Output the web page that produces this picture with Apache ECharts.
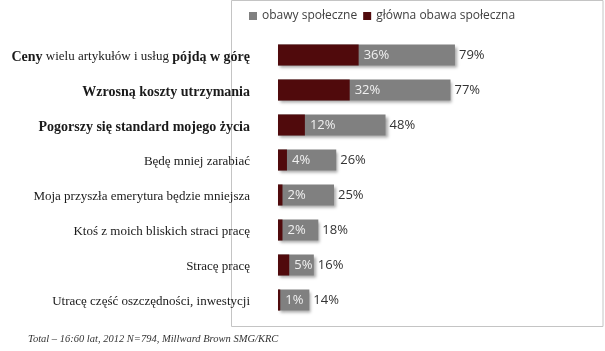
<!DOCTYPE html>
<html>
<head>
<meta charset="utf-8">
<script src="https://cdn.jsdelivr.net/npm/echarts@6/dist/echarts.min.js"></script>
<style>
  html, body { margin: 0; padding: 0; background: #fff; }
  #chart { width: 605px; height: 351px; }
</style>
</head>
<body>
<div id="chart"></div>
<script>
// categories, top to bottom; {b|...} marks bold parts
var categories = [
  '{b|Ceny} wielu artykułów i usług {b|pójdą w górę}',
  '{b|Wzrosną koszty utrzymania}',
  '{b|Pogorszy się standard mojego życia}',
  'Będę mniej zarabiać',
  'Moja przyszła emerytura będzie mniejsza',
  'Ktoś z moich bliskich straci pracę',
  'Stracę pracę',
  'Utracę część oszczędności, inwestycji'
]
var obawy = [79, 77, 48, 26, 25, 18, 16, 14]
var glowna = [36, 32, 12, 4, 2, 2, 5, 1]
var footnote = 'Total – 16:60 lat, 2012 N=794, Millward Brown SMG/KRC'

var serif = '"Liberation Serif", "DejaVu Serif", serif'
var sans = '"Open Sans", "Liberation Sans", sans-serif'
var barShadow = { shadowBlur: 3, shadowOffsetX: 2, shadowOffsetY: 2, shadowColor: 'rgba(0,0,0,0.35)' }

var chart = echarts.init(document.getElementById('chart'))
chart.setOption({
  animation: false,
  backgroundColor: '#fff',
  legend: {
    left: 244,
    top: 5,
    itemWidth: 8,
    itemHeight: 8,
    itemGap: 6,
    icon: 'rect',
    textStyle: { fontFamily: sans, fontSize: 12, color: '#404040' },
    data: ['obawy społeczne', 'główna obawa społeczna']
  },
  grid: { left: 278, right: 103, top: 37.5, bottom: 33.5 },
  xAxis: {
    type: 'value', min: 0, max: 100,
    show: false
  },
  yAxis: {
    type: 'category',
    inverse: true,
    data: categories,
    axisLine: { show: false },
    axisTick: { show: false },
    axisLabel: {
      margin: 28,
      padding: [4, 0, 0, 0],
      fontFamily: serif,
      fontSize: 13,
      color: '#1a1a1a',
      rich: {
        b: { fontFamily: serif, fontSize: 14, fontWeight: 'bold', color: '#1a1a1a' }
      }
    }
  },
  series: [
    {
      name: 'obawy społeczne',
      type: 'bar',
      data: obawy,
      barWidth: 21,
      barGap: '-100%',
      itemStyle: Object.assign({ color: '#808080' }, barShadow),
      label: {
        show: true, position: 'right', distance: 4,
        formatter: '{c}%', fontFamily: sans, fontSize: 13, color: '#333'
      }
    },
    {
      name: 'główna obawa społeczna',
      type: 'bar',
      data: glowna,
      barWidth: 21,
      itemStyle: { color: '#500a0c' },
      label: {
        show: true, position: 'right', distance: 5,
        formatter: '{c}%', fontFamily: sans, fontSize: 13, color: '#f0f0f0'
      }
    }
  ],
  graphic: [
    {
      type: 'rect', z: -1,
      shape: { x: 231.5, y: 0.5, width: 371.5, height: 326 },
      style: { fill: 'none', stroke: '#c4c4c4', lineWidth: 1 }
    },
    {
      type: 'text', left: 28, top: 334,
      style: { text: footnote, fontFamily: serif, fontStyle: 'italic', fontSize: 10.5, fill: '#333' }
    }
  ]
})
</script>
</body>
</html>
